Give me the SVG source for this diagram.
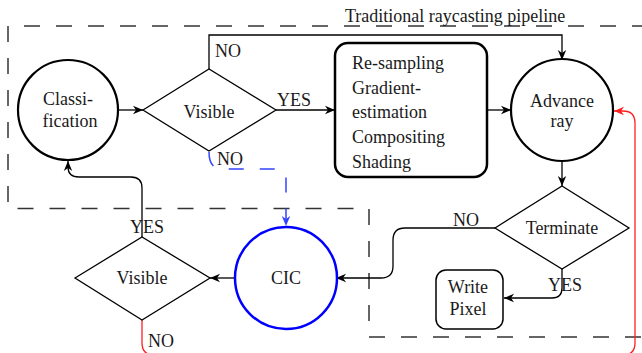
<svg xmlns="http://www.w3.org/2000/svg" width="642" height="353" viewBox="0 0 642 353">
<defs>
<style>
text{font-family:"Liberation Serif","Times New Roman",serif;font-size:18px;fill:#1a1a1a}
.c{text-anchor:middle}
.frame{fill:none;stroke:#333;stroke-width:1.5;stroke-dasharray:16 16}
.circ{fill:#fff;stroke:#000;stroke-width:2.2}
.dia{fill:#fff;stroke:#000;stroke-width:1.3}
.box{fill:#fff;stroke:#000;stroke-width:2.5}
.box2{fill:#fff;stroke:#000;stroke-width:1.5}
.ln{fill:none;stroke:#000;stroke-width:1.3}
.blue{fill:none;stroke:#3344ff;stroke-width:1.5;stroke-dasharray:15 16}
.red{fill:none;stroke:#ff2020;stroke-width:1.3}
</style>
<marker id="ak" viewBox="0 0 10 10" refX="10" refY="5" markerWidth="10" markerHeight="10" markerUnits="userSpaceOnUse" orient="auto">
<path d="M0,0.8 L10,5 L0,9.2 L3,5 z" fill="#000"/>
</marker>
<marker id="ab" viewBox="0 0 10 10" refX="10" refY="5" markerWidth="10" markerHeight="10" markerUnits="userSpaceOnUse" orient="auto">
<path d="M0,0.8 L10,5 L0,9.2 L3,5 z" fill="#3344ff"/>
</marker>
<marker id="ar" viewBox="0 0 10 10" refX="10" refY="5" markerWidth="10" markerHeight="10" markerUnits="userSpaceOnUse" orient="auto">
<path d="M0,0.8 L10,5 L0,9.2 L3,5 z" fill="#ff2020"/>
</marker>
</defs>

<g id="pipeline-frame">
<path class="frame" d="M8,26 H650" stroke-dashoffset="16"/>
<path class="frame" d="M8,26 V208.5 H369 V337 H650"/>
<text x="345" y="22">Traditional raycasting pipeline</text>
</g>

<g id="connectors">
<path class="ln" d="M118,110 H143" marker-end="url(#ak)"/>
<path class="ln" d="M209,69 V35 H562 V60" marker-end="url(#ak)"/>
<path class="ln" d="M276,110 H335" marker-end="url(#ak)"/>
<path class="ln" d="M487,110 H511" marker-end="url(#ak)"/>
<path class="ln" d="M562,161 V186" marker-end="url(#ak)"/>
<path class="ln" d="M495,228 H405 Q393,228 393,240 V266 Q393,278 381,278 H336" marker-end="url(#ak)"/>
<path class="ln" d="M562,269 V288 Q562,298 552,298 H504" marker-end="url(#ak)"/>
<path class="ln" d="M235,278 H210" marker-end="url(#ak)"/>
<path class="ln" d="M142,237 V188 Q142,177 131,177 H79 Q68,177 68,167 V161" marker-end="url(#ak)"/>
<path class="blue" d="M209,152 Q209,169 222,169 H276 Q286,169 286,179 V226" marker-end="url(#ab)"/>
<path class="red" d="M142,320 V343 Q142,355 154,355 H623 Q635,355 635,343 V123 Q635,111 623,111 H614" marker-end="url(#ar)"/>
<text x="215" y="57">NO</text>
<text x="277" y="106">YES</text>
<text x="217" y="165">NO</text>
<text x="453" y="226">NO</text>
<text x="548" y="291">YES</text>
<text x="130" y="233">YES</text>
<text x="148" y="347">NO</text>
</g>

<g id="classification">
<circle class="circ" cx="68" cy="110" r="50"/>
<text class="c" x="68" y="105">Classi-</text>
<text class="c" x="70" y="127">fication</text>
</g>

<g id="visible1">
<polygon class="dia" points="143,110 209,69 276,110 209,151"/>
<text class="c" x="209" y="118">Visible</text>
</g>

<g id="process">
<rect class="box" x="335" y="43" width="152" height="134" rx="13"/>
<text x="352" y="69">Re-sampling</text>
<text x="352" y="94">Gradient-</text>
<text x="352" y="118">estimation</text>
<text x="352" y="143">Compositing</text>
<text x="352" y="168">Shading</text>
</g>

<g id="advance-ray">
<circle class="circ" cx="562" cy="110" r="51"/>
<text class="c" x="562" y="107">Advance</text>
<text class="c" x="562" y="127">ray</text>
</g>

<g id="terminate">
<polygon class="dia" points="495,228 562,186 629,228 562,269"/>
<text class="c" x="562" y="234">Terminate</text>
</g>

<g id="write-pixel">
<rect class="box2" x="436" y="270" width="67" height="59" rx="10"/>
<text class="c" x="468" y="293">Write</text>
<text class="c" x="468" y="315">Pixel</text>
</g>

<g id="cic">
<circle cx="286" cy="278" r="51" fill="#fff" stroke="#0000ff" stroke-width="2.5"/>
<text class="c" x="286" y="284">CIC</text>
</g>

<g id="visible2">
<polygon class="dia" points="75,278 142,237 210,278 142,320"/>
<text class="c" x="142" y="284">Visible</text>
</g>
</svg>
